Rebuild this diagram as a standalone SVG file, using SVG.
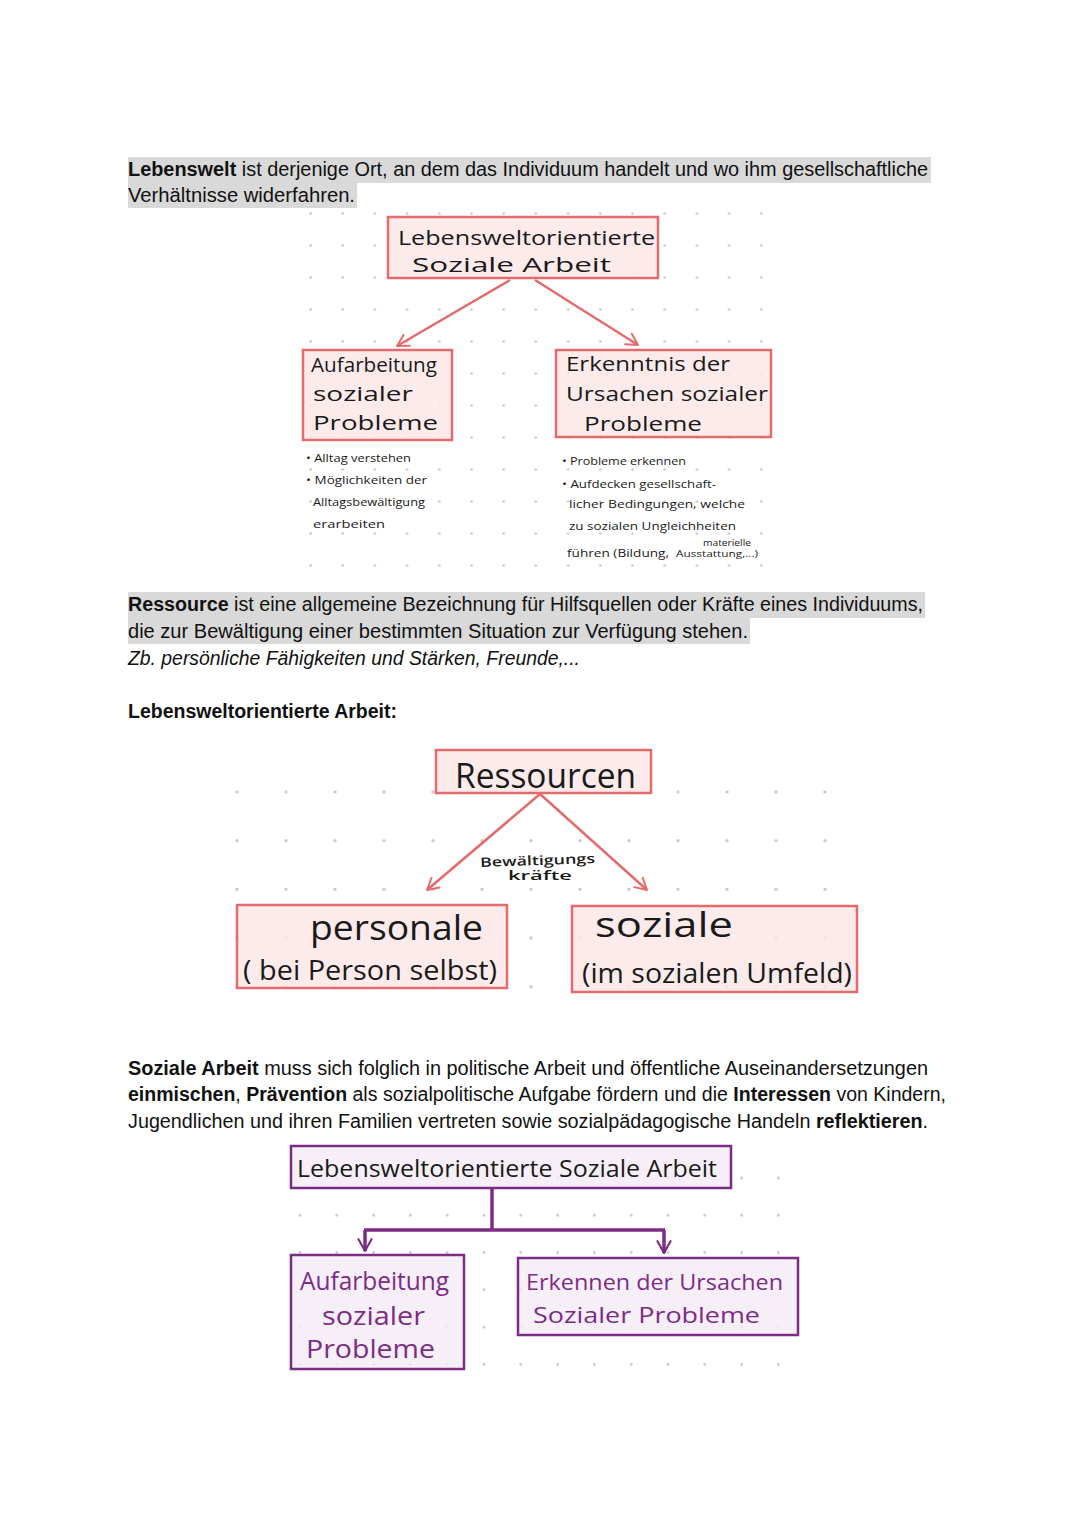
<svg xmlns="http://www.w3.org/2000/svg" width="1080" height="1527" viewBox="0 0 1080 1527">
<style>
.body{font-family:"Liberation Sans","Noto Sans",sans-serif;font-size:19.5px;fill:#111;}
.b{font-weight:bold;}
.hl{fill:#d9d9d9;}
.hw{font-family:"Open Sans","Noto Sans",sans-serif;font-weight:400;fill:#1a1a1a;}
.hwb{font-weight:600;}
.rbox{fill:#fde6e6;fill-opacity:0.8;stroke:#e46b6b;stroke-width:2.5;}
.pbox{fill:#f4ebf6;fill-opacity:0.8;stroke:#7d2c85;stroke-width:2.5;}
.pt{fill:#7d2c85;}
.rline{stroke:#e46b6b;stroke-width:2.5;fill:none;}
.pline{stroke:#7d2c85;stroke-width:3.5;fill:none;}
</style>
<defs>
<pattern id="dots1" patternUnits="userSpaceOnUse" x="309" y="212" width="32.2" height="32">
<circle cx="1.5" cy="1.5" r="1.3" fill="#c8c8c8"/>
</pattern>
<pattern id="dots2" patternUnits="userSpaceOnUse" x="235.5" y="790.5" width="49" height="48.7">
<circle cx="1.5" cy="1.5" r="1.6" fill="#c8c8c8"/>
</pattern>
<pattern id="dots3" patternUnits="userSpaceOnUse" x="298.5" y="1176.5" width="36.8" height="37.3">
<circle cx="1.5" cy="1.5" r="1.4" fill="#c8c8c8"/>
</pattern>
<marker id="ar" viewBox="0 0 12 12" refX="10" refY="6" markerWidth="6" markerHeight="6" orient="auto" markerUnits="strokeWidth">
<path d="M1,1 L10,6 L1,11" fill="none" stroke="#e46b6b" stroke-width="1.6" stroke-linecap="round" stroke-linejoin="round"/>
</marker>
<marker id="ap" viewBox="0 0 12 12" refX="10" refY="6" markerWidth="4.5" markerHeight="4.5" orient="auto" markerUnits="strokeWidth">
<path d="M1,1 L10,6 L1,11" fill="none" stroke="#7d2c85" stroke-width="1.6" stroke-linecap="round" stroke-linejoin="round"/>
</marker>
</defs>
<rect width="1080" height="1527" fill="#ffffff"/>

<!-- dot grids -->
<rect x="305" y="208" width="460" height="362" fill="url(#dots1)"/>
<rect x="232" y="786" width="598" height="204" fill="url(#dots2)"/>
<rect x="295" y="1173" width="488" height="196" fill="url(#dots3)"/>

<!-- paragraph 1 -->
<g id="para-lebenswelt">
<rect class="hl" x="128" y="157" width="803" height="26"/>
<rect class="hl" x="128" y="183" width="229" height="25"/>
<text class="body" x="128" y="176" textLength="800" lengthAdjust="spacingAndGlyphs"><tspan class="b">Lebenswelt</tspan> ist derjenige Ort, an dem das Individuum handelt und wo ihm gesellschaftliche</text>
<text class="body" x="128" y="202" textLength="227" lengthAdjust="spacingAndGlyphs">Verhältnisse widerfahren.</text>
</g>

<!-- connectors -->
<g id="connectors">
<line class="rline" x1="510" y1="280" x2="397" y2="346" marker-end="url(#ar)"/>
<line class="rline" x1="535" y1="280" x2="638" y2="345" marker-end="url(#ar)"/>
<line class="rline" x1="540" y1="794" x2="427" y2="890" marker-end="url(#ar)"/>
<line class="rline" x1="540" y1="794" x2="647" y2="890" marker-end="url(#ar)"/>
<path class="pline" d="M492,1188 V1230 M364,1230 H665"/>
<line class="pline" x1="365" y1="1230" x2="365" y2="1251" marker-end="url(#ap)"/>
<line class="pline" x1="664" y1="1230" x2="664" y2="1253" marker-end="url(#ap)"/>
</g>

<!-- top diagram -->
<g id="node-lso-top">
<rect class="rbox" x="388" y="217" width="270" height="61"/>
<text class="hw" x="398" y="245" font-size="20" textLength="257" lengthAdjust="spacingAndGlyphs">Lebensweltorientierte</text>
<text class="hw" x="412" y="272" font-size="20" textLength="199" lengthAdjust="spacingAndGlyphs">Soziale  Arbeit</text>
</g>
<g id="node-aufarbeitung-top">
<rect class="rbox" x="303" y="350" width="149" height="90"/>
<text class="hw" x="311" y="372" font-size="20" textLength="126" lengthAdjust="spacingAndGlyphs">Aufarbeitung</text>
<text class="hw" x="313" y="401" font-size="20" textLength="100" lengthAdjust="spacingAndGlyphs">sozialer</text>
<text class="hw" x="313" y="430" font-size="20" textLength="125" lengthAdjust="spacingAndGlyphs">Probleme</text>
</g>
<g id="node-erkenntnis-top">
<rect class="rbox" x="556" y="350" width="215" height="87"/>
<text class="hw" x="566" y="371" font-size="20" textLength="164" lengthAdjust="spacingAndGlyphs">Erkenntnis  der</text>
<text class="hw" x="566" y="401" font-size="20" textLength="202" lengthAdjust="spacingAndGlyphs">Ursachen sozialer</text>
<text class="hw" x="584" y="431" font-size="20" textLength="118" lengthAdjust="spacingAndGlyphs">Probleme</text>
</g>
<g id="notes-left">
<text class="hw" x="306" y="462" font-size="11.5" textLength="105" lengthAdjust="spacingAndGlyphs">• Alltag verstehen</text>
<text class="hw" x="306" y="484" font-size="11.5" textLength="121" lengthAdjust="spacingAndGlyphs">• Möglichkeiten der</text>
<text class="hw" x="313" y="506" font-size="11.5" textLength="112" lengthAdjust="spacingAndGlyphs">Alltagsbewältigung</text>
<text class="hw" x="313" y="528" font-size="11.5" textLength="72" lengthAdjust="spacingAndGlyphs">erarbeiten</text>
</g>
<g id="notes-right">
<text class="hw" x="562" y="465" font-size="11.5" textLength="124" lengthAdjust="spacingAndGlyphs">• Probleme erkennen</text>
<text class="hw" x="562" y="488" font-size="11.5" textLength="154" lengthAdjust="spacingAndGlyphs">• Aufdecken gesellschaft-</text>
<text class="hw" x="569" y="508" font-size="11.5" textLength="176" lengthAdjust="spacingAndGlyphs">licher Bedingungen, welche</text>
<text class="hw" x="569" y="530" font-size="11.5" textLength="167" lengthAdjust="spacingAndGlyphs">zu sozialen Ungleichheiten</text>
<text class="hw" x="567" y="557" font-size="11.5" textLength="102" lengthAdjust="spacingAndGlyphs">führen (Bildung,</text>
<text class="hw" x="703" y="546" font-size="8.5" textLength="48" lengthAdjust="spacingAndGlyphs">materielle</text>
<text class="hw" x="676" y="557" font-size="8.5" textLength="82" lengthAdjust="spacingAndGlyphs">Ausstattung,...)</text>
</g>

<!-- paragraph 2 -->
<g id="para-ressource">
<rect class="hl" x="128" y="592" width="797" height="26"/>
<rect class="hl" x="128" y="618" width="622" height="26"/>
<text class="body" x="128" y="611" textLength="795" lengthAdjust="spacingAndGlyphs"><tspan class="b">Ressource</tspan> ist eine allgemeine Bezeichnung für Hilfsquellen oder Kräfte eines Individuums,</text>
<text class="body" x="128" y="638" textLength="620" lengthAdjust="spacingAndGlyphs">die zur Bewältigung einer bestimmten Situation zur Verfügung stehen.</text>
<text class="body" x="128" y="665" font-style="italic" textLength="452" lengthAdjust="spacingAndGlyphs">Zb. persönliche Fähigkeiten und Stärken, Freunde,...</text>
<text class="body b" x="128" y="718" textLength="269" lengthAdjust="spacingAndGlyphs">Lebensweltorientierte Arbeit:</text>
</g>

<!-- Ressourcen diagram -->
<g id="node-ressourcen">
<rect class="rbox" x="436" y="750" width="215" height="43"/>
<text class="hw" x="455" y="788" font-size="34" textLength="181" lengthAdjust="spacingAndGlyphs">Ressourcen</text>
</g>
<g id="label-bewaeltigung">
<text class="hw hwb" x="480" y="865" font-size="13" textLength="115" lengthAdjust="spacingAndGlyphs" transform="rotate(-2 537 862)">Bewältigungs</text>
<text class="hw hwb" x="508" y="880" font-size="13" textLength="64" lengthAdjust="spacingAndGlyphs">kräfte</text>
</g>
<g id="node-personale">
<rect class="rbox" x="237" y="905" width="270" height="83"/>
<text class="hw" x="310" y="940" font-size="34" textLength="173" lengthAdjust="spacingAndGlyphs">personale</text>
<text class="hw" x="243" y="980" font-size="27" textLength="254" lengthAdjust="spacingAndGlyphs">( bei Person selbst)</text>
</g>
<g id="node-soziale">
<rect class="rbox" x="572" y="906" width="285" height="86"/>
<text class="hw" x="595" y="937" font-size="34" textLength="138" lengthAdjust="spacingAndGlyphs">soziale</text>
<text class="hw" x="582" y="983" font-size="27" textLength="270" lengthAdjust="spacingAndGlyphs">(im sozialen Umfeld)</text>
</g>

<!-- paragraph 3 -->
<g id="para-soziale-arbeit">
<text class="body" x="128" y="1075" textLength="800" lengthAdjust="spacingAndGlyphs"><tspan class="b">Soziale Arbeit</tspan> muss sich folglich in politische Arbeit und öffentliche Auseinandersetzungen</text>
<text class="body" x="128" y="1101" textLength="818" lengthAdjust="spacingAndGlyphs"><tspan class="b">einmischen</tspan>, <tspan class="b">Prävention</tspan> als sozialpolitische Aufgabe fördern und die <tspan class="b">Interessen</tspan> von Kindern,</text>
<text class="body" x="128" y="1128" textLength="800" lengthAdjust="spacingAndGlyphs">Jugendlichen und ihren Familien vertreten sowie sozialpädagogische Handeln <tspan class="b">reflektieren</tspan>.</text>
</g>

<!-- purple diagram -->
<g id="node-lso-bottom">
<rect class="pbox" x="291" y="1146" width="440" height="42"/>
<text class="hw" x="297" y="1177" font-size="23" textLength="420" lengthAdjust="spacingAndGlyphs">Lebensweltorientierte Soziale Arbeit</text>
</g>
<g id="node-aufarbeitung-bottom">
<rect class="pbox" x="291" y="1255" width="173" height="114"/>
<text class="hw pt" x="300" y="1290" font-size="25" textLength="149" lengthAdjust="spacingAndGlyphs">Aufarbeitung</text>
<text class="hw pt" x="322" y="1325" font-size="25" textLength="103" lengthAdjust="spacingAndGlyphs">sozialer</text>
<text class="hw pt" x="306" y="1358" font-size="25" textLength="129" lengthAdjust="spacingAndGlyphs">Probleme</text>
</g>
<g id="node-erkennen-bottom">
<rect class="pbox" x="518" y="1258" width="280" height="77"/>
<text class="hw pt" x="526" y="1290" font-size="22" textLength="257" lengthAdjust="spacingAndGlyphs">Erkennen der Ursachen</text>
<text class="hw pt" x="533" y="1323" font-size="22" textLength="227" lengthAdjust="spacingAndGlyphs">Sozialer  Probleme</text>
</g>
</svg>
